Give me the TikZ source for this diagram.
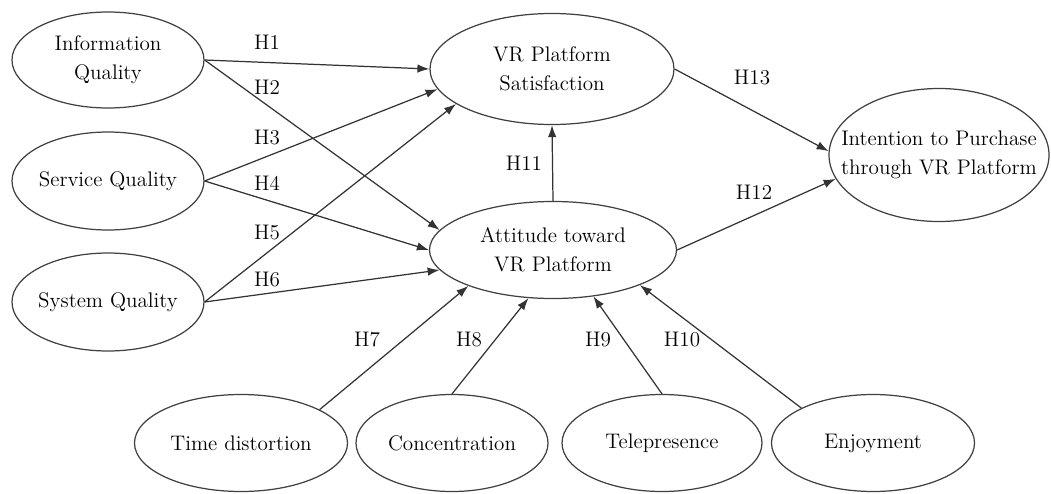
\documentclass[tikz,border=0pt]{standalone}
\usetikzlibrary{arrows.meta, shapes.geometric}

\begin{document}
\begin{tikzpicture}[font=\fontsize{12}{16.4}\selectfont]
        \tikzstyle{construct}=[draw=black!75, line width=0.7pt, ellipse, inner sep=0pt]
        \tikzstyle{vartext}=[align=center, inner sep=0pt]
        \tikzstyle{hyp}=[draw=black!80, line width=0.7pt, -{Latex[length=2.4mm,width=1.7mm]}]

        \useasboundingbox (0,0) rectangle (21.02,9.86);

        % Quality constructs on the left
        \node[construct, minimum width=3.84cm, minimum height=1.92cm, label={[vartext]center:{Information\\Quality}}] (iq) at (2.16,8.66) {};
        \node[construct, minimum width=3.84cm, minimum height=1.96cm, label={[vartext]center:Service Quality}] (sq) at (2.16,6.24) {};
        \node[construct, minimum width=3.84cm, minimum height=1.96cm, label={[vartext]center:System Quality}] (sys) at (2.16,3.82) {};

        % Satisfaction, attitude and intention
        \node[construct, minimum width=4.88cm, minimum height=2.22cm, label={[vartext]center:{VR Platform\\Satisfaction}}] (sat) at (11.04,8.48) {};
        \node[construct, minimum width=4.94cm, minimum height=1.94cm, label={[vartext]center:{Attitude toward\\VR Platform}}] (att) at (11.06,4.86) {};
        \node[construct, minimum width=4.40cm, minimum height=2.66cm, label={[vartext]center:{Intention to Purchase\\through VR Platform}}] (int) at (18.78,6.76) {};

        % Flow constructs at the bottom
        \node[construct, minimum width=4.26cm, minimum height=1.94cm, label={[vartext]center:Time distortion}] (td) at (4.82,1.00) {};
        \node[construct, minimum width=3.84cm, minimum height=1.94cm, label={[vartext]center:Concentration}] (con) at (9.04,1.00) {};
        \node[construct, minimum width=4.00cm, minimum height=1.94cm, label={[vartext]center:Telepresence}] (tel) at (13.24,1.00) {};
        \node[construct, minimum width=4.06cm, minimum height=1.94cm, label={[vartext]center:Enjoyment}] (enj) at (17.46,1.00) {};

        % Draw hypothesised paths
        \foreach \a/\b in {iq.east/sat.180, iq.east/att.170, sq.east/sat.190, sq.east/att.180,
                           sys.east/sat.200, sys.east/att.190, td.23/att.203, con.north/att.243,
                           tel.north/att.311, enj.154/att.338, att.north/sat.south,
                           att.east/int.193, sat.east/int.178} {
            \draw[hyp] (\a) -- (\b);
        }

        % Add hypothesis labels
        \foreach \h/\x/\y in {1/5.34/9.02, 2/5.34/8.12, 3/5.34/7.10, 4/5.34/6.20, 5/5.34/5.20,
                              6/5.34/4.26, 7/7.34/3.06, 8/9.38/3.06, 9/11.96/3.06, 10/13.64/3.06,
                              11/10.48/6.60, 12/15.08/6.02, 13/15.04/8.30} {
            \node (h\h) at (\x,\y) {H\h};
        }
    \end{tikzpicture}
\end{document}
